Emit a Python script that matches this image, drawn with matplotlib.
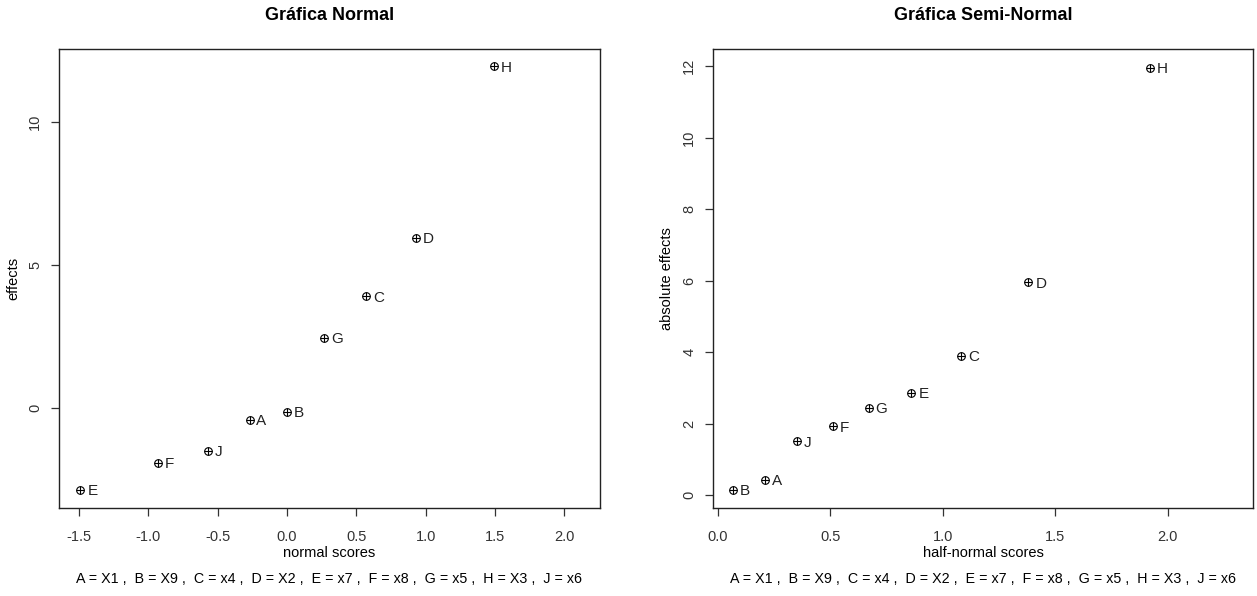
import numpy as np
import matplotlib
matplotlib.use("Agg")
import matplotlib.pyplot as plt

plt.rcParams['font.family'] = ['Liberation Sans', 'DejaVu Sans']

# factor letters and their estimated effects
letters = ['A', 'B', 'C', 'D', 'E', 'F', 'G', 'H', 'J']
effects = [-0.42, -0.14, 3.90, 5.95, -2.87, -1.92, 2.45, 11.95, -1.50]
normal_scores = [-0.27, 0.0, 0.57, 0.93, -1.49, -0.93, 0.27, 1.49, -0.57]
halfnormal_scores = [0.21, 0.067, 1.08, 1.38, 0.86, 0.51, 0.67, 1.92, 0.35]
caption = "A = X1 ,  B = X9 ,  C = x4 ,  D = X2 ,  E = x7 ,  F = x8 ,  G = x5 ,  H = X3 ,  J = x6"

fig = plt.figure(figsize=(12.57, 5.96), dpi=100)
ax1 = fig.add_axes([0.0469, 0.1477, 0.4304, 0.7701])
ax2 = fig.add_axes([0.5672, 0.1477, 0.4296, 0.7701])


def draw(ax, xs, ys, title, xlabel, ylabel, xlim, ylim, xticks, yticks):
    ax.plot(xs, ys, 'o', ms=5.5, mfc='none', mec='black', mew=0.8)
    ax.plot(xs, ys, '+', ms=5.5, color='black', mew=0.8)
    for x, y, lab in zip(xs, ys, letters):
        ax.annotate(lab, (x, y), xytext=(5, -1), textcoords='offset points',
                    ha='left', va='center', fontsize=11, color='#222222')
    ax.set_xlim(*xlim)
    ax.set_ylim(*ylim)
    ax.set_xticks(xticks)
    ax.set_xticklabels([f"{t:.1f}" for t in xticks])
    ax.set_yticks(yticks)
    ax.set_yticklabels([str(t) for t in yticks], rotation=90, va='center')
    ax.tick_params(labelsize=10.5, length=6, width=0.9, colors='#333333', pad=10)
    ax.tick_params(axis='y', pad=6)
    for s in ax.spines.values():
        s.set_linewidth(1.0)
        s.set_color('#222222')
    ax.set_title(title, fontsize=13, fontweight='bold', pad=21)
    ax.set_xlabel(xlabel, fontsize=10.5, labelpad=1)
    ax.set_ylabel(ylabel, fontsize=10.5, labelpad=6)
    ax.text(0.5, -0.155, caption, transform=ax.transAxes, ha='center', va='center',
            fontsize=10.3)


draw(ax1, normal_scores, effects, 'Gráfica Normal', 'normal scores', 'effects',
     (-1.644, 2.257), (-3.50, 12.55), np.arange(-1.5, 2.01, 0.5), [0, 5, 10])
draw(ax2, halfnormal_scores, np.abs(effects), 'Gráfica Semi-Normal', 'half-normal scores',
     'absolute effects', (-0.022, 2.378), (-0.36, 12.48), np.arange(0, 2.01, 0.5),
     [0, 2, 4, 6, 8, 10, 12])

fig.savefig('out.png', dpi=100)
